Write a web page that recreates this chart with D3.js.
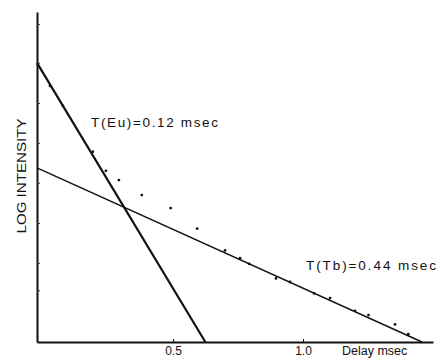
<!DOCTYPE html>
<html>
<head>
<meta charset="utf-8">
<script src="https://cdn.jsdelivr.net/npm/d3@7"></script>
<style>
  html, body { margin: 0; padding: 0; background: #fff; }
  svg { display: block; font-family: "Liberation Sans", Arial, Helvetica, sans-serif; }
</style>
</head>
<body>
<svg id="chart" width="437" height="361"></svg>
<script>
// Delay (msec) and natural-log intensity of the measured points
const delays = [0.027, 0.076, 0.192, 0.242, 0.292, 0.380, 0.491, 0.593, 0.700, 0.758,
                0.793, 0.896, 0.950, 1.043, 1.104, 1.200, 1.252, 1.354, 1.405];
const logIntensity = [4.95, 4.57, 3.68, 3.31, 3.13, 2.84, 2.59, 2.19, 1.77, 1.62,
                      1.51, 1.23, 1.16, 0.94, 0.85, 0.60, 0.52, 0.34, 0.15];

// Fitted single-exponential components: lifetime (msec) and ln intensity at t = 0
const componentNames = ["T(Eu)=0.12 msec", "T(Tb)=0.44 msec"];
const lifetimes = [0.12, 0.44];
const startLogIntensity = [5.204, 3.313];

const xTickValues = [0.5, 1.0];
const xTickLabels = ["0.5", "1.0"];
const yTickValues = [1.0, 1.53, 2.3, 3.08, 3.85, 4.62, 5.4, 6.15];

const svg = d3.select("#chart");

const x = d3.scaleLinear().domain([-0.023, 1.5]).range([37, 433]);
const y = d3.scaleLinear().domain([0, 6.38]).range([342, 12]);

// Component decay lines (straight on a log axis)
const lineGen = d3.line().x(d => x(d[0])).y(d => y(d[1]));
const widths = [2.2, 1.4];
componentNames.forEach((name, i) => {
  const t0 = x.domain()[0];
  const v0 = startLogIntensity[i] - t0 / lifetimes[i];
  const tEnd = startLogIntensity[i] * lifetimes[i];
  svg.append("path")
    .datum([[t0, v0], [tEnd, 0]])
    .attr("d", lineGen)
    .attr("fill", "none")
    .attr("stroke", "#111")
    .attr("stroke-width", widths[i]);
});

// Measured points
svg.append("g").selectAll("circle")
  .data(delays.map((d, i) => [d, logIntensity[i]]))
  .join("circle")
  .attr("cx", d => x(d[0]))
  .attr("cy", d => y(d[1]))
  .attr("r", 1.4)
  .attr("fill", "#111");

// Axes
const xAxis = d3.axisBottom(x).tickValues(xTickValues)
  .tickFormat((d, i) => xTickLabels[i]).tickSizeInner(-3).tickSizeOuter(0);
const gx = svg.append("g").attr("transform", "translate(0,342)").call(xAxis);
gx.select(".domain").attr("stroke", "#111").attr("stroke-width", 2);
gx.selectAll(".tick line").attr("stroke", "#111");
gx.selectAll(".tick text")
  .attr("y", 13).attr("dy", null)
  .attr("font-size", 12).attr("fill", "#111")
  .attr("font-family", "'Liberation Sans', Arial, sans-serif");

const yAxis = d3.axisLeft(y).tickValues(yTickValues).tickFormat("")
  .tickSizeInner(-3).tickSizeOuter(0);
const gy = svg.append("g").attr("transform", "translate(37,0)").call(yAxis);
gy.select(".domain").attr("stroke", "#111").attr("stroke-width", 2);
gy.selectAll(".tick line").attr("stroke", "#333");

// Axis titles
svg.append("text")
  .attr("x", 342).attr("y", 355)
  .attr("font-size", 12.5).attr("fill", "#111")
  .text("Delay msec");

svg.append("text")
  .attr("transform", "translate(26,176) rotate(-90)")
  .attr("text-anchor", "middle")
  .attr("font-size", 13).attr("fill", "#111")
  .attr("textLength", 115).attr("lengthAdjust", "spacingAndGlyphs")
  .text("LOG INTENSITY");

// Component labels
const labelPos = [[91, 127], [306, 270]];
const labelWidths = [127, 130];
componentNames.forEach((name, i) => {
  svg.append("text")
    .attr("x", labelPos[i][0]).attr("y", labelPos[i][1])
    .attr("font-size", 13.5).attr("fill", "#111")
    .attr("textLength", labelWidths[i]).attr("lengthAdjust", "spacing")
    .text(name);
});
</script>
</body>
</html>
